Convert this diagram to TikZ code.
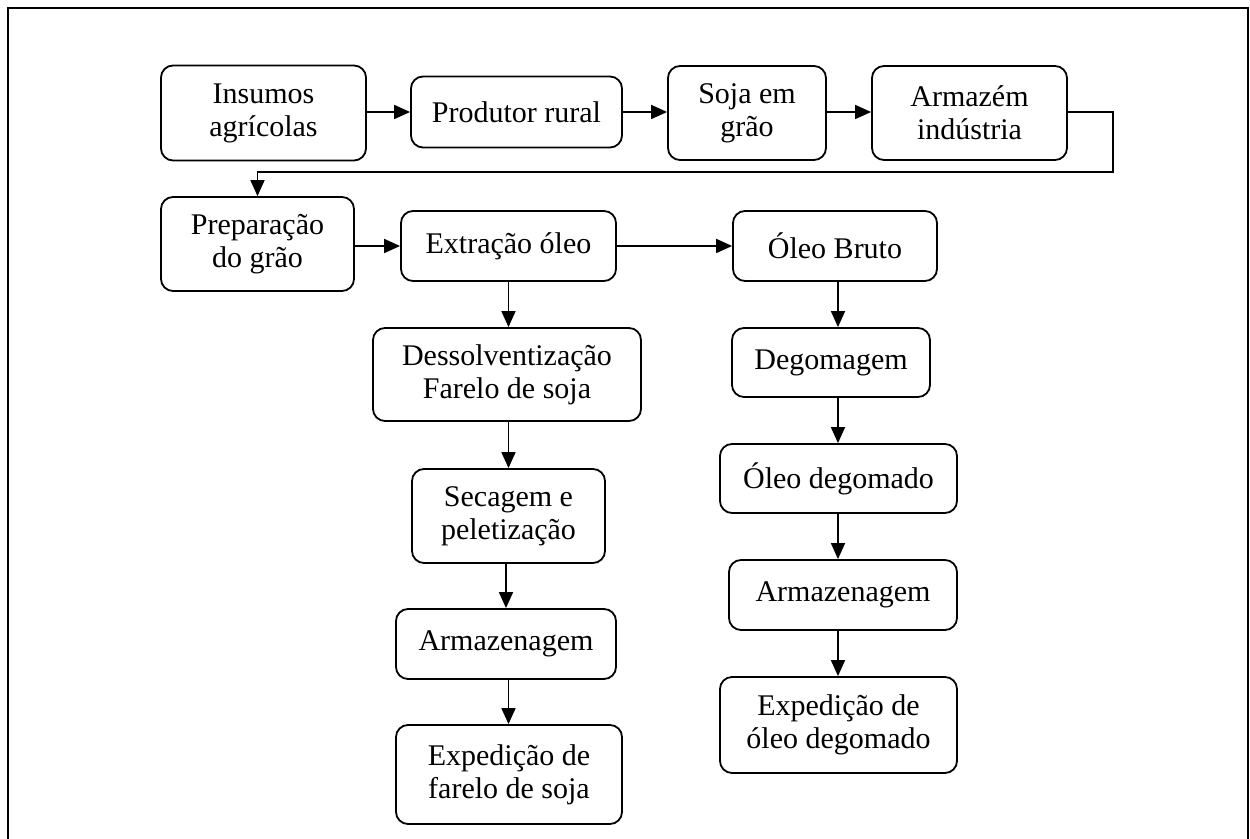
\documentclass[tikz,border=0pt]{standalone}
\usepackage{fontspec}
\setmainfont{Liberation Serif}
\usetikzlibrary{arrows.meta}

\tikzset{
  etapa/.style={rectangle, rounded corners=6pt, draw, line width=0.9pt, align=center,
    inner sep=0pt, font=\fontsize{15}{16.5}\selectfont},
  seta/.style={line width=0.9pt, -{Triangle[length=8pt,width=7pt]}},
  moldura/.style={line width=1pt}
}

\begin{document}
\begin{tikzpicture}[x=0.5pt,y=-0.5pt]
\useasboundingbox (0,0) rectangle (1250,839);
\draw[moldura] (8,839) -- (8,8) -- (1248,8) -- (1248,839);

% linha de cima
\node[etapa, minimum width=102.5pt, minimum height=47.5pt] (ins) at (263.5,113) {Insumos\\agrícolas};
\node[etapa, minimum width=105.5pt, minimum height=35.5pt] (prod) at (516.5,112) {Produtor rural};
\node[etapa, minimum width=79pt, minimum height=47pt] (soja) at (747,113) {Soja em\\grão};
\node[etapa, minimum width=97.5pt, minimum height=47pt] (arm) at (969.5,113) {Armazém\\indústria};

% industria
\node[etapa, minimum width=96.5pt, minimum height=47pt] (prep) at (257.5,244) {Preparação\\do grão};
\node[etapa, minimum width=107.5pt, minimum height=35pt] (ext) at (508.5,246) {Extração óleo};
\node[etapa, minimum width=102pt, minimum height=35pt] (bruto) at (835,246) {Óleo Bruto};

% farelo
\node[etapa, minimum width=134pt, minimum height=46.5pt] (dess) at (507,374.5) {Dessolventização\\Farelo de soja};
\node[etapa, minimum width=96.5pt, minimum height=47pt] (sec) at (508.5,516) {Secagem e\\peletização};
\node[etapa, minimum width=110pt, minimum height=35pt] (armF) at (506,644) {Armazenagem};
\node[etapa, minimum width=113pt, minimum height=49.5pt] (expF) at (509,774.5) {Expedição de\\farelo de soja};

% oleo
\node[etapa, minimum width=99pt, minimum height=34.5pt] (deg) at (831,362.5) {Degomagem};
\node[etapa, minimum width=118.5pt, minimum height=34.5pt] (oleoDeg) at (838.5,478.5) {Óleo degomado};
\node[etapa, minimum width=114pt, minimum height=35pt] (armO) at (843,595) {Armazenagem};
\node[etapa, minimum width=118.5pt, minimum height=48pt] (expO) at (838.5,725) {Expedição de\\óleo degomado};

\coordinate (volta) at (1113,172);
\coordinate (colO) at (838,0);

\draw[seta] (ins.east |- prod.west) -- (prod.west);
\draw[seta] (prod.east) -- (prod.east -| soja.west);
\draw[seta] (soja.east |- prod.east) -- (prod.east -| arm.west);
\draw[seta] (arm.east |- prod.east) -| (volta) -| (prep.north);
\draw[seta] (prep.east |- ext.west) -- (ext.west);
\draw[seta] (ext.east) -- (bruto.west);

\draw[seta] (ext.south) -- (ext.south |- dess.north);
\draw[seta] (ext.south |- dess.south) -- (ext.south |- sec.north);
\draw[seta] (sec.south -| armF.north) -- (armF.north);
\draw[seta] (ext.south |- armF.south) -- (ext.south |- expF.north);

\draw[seta] (colO |- bruto.south) -- (colO |- deg.north);
\draw[seta] (colO |- deg.south) -- (colO |- oleoDeg.north);
\draw[seta] (colO |- oleoDeg.south) -- (colO |- armO.north);
\draw[seta] (colO |- armO.south) -- (colO |- expO.north);
\end{tikzpicture}
\end{document}
